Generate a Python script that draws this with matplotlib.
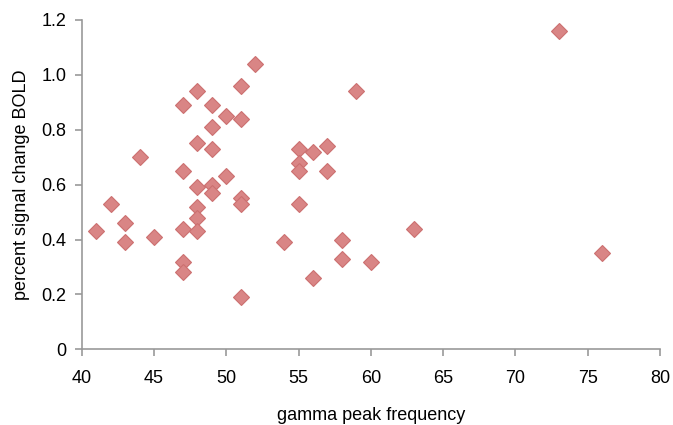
import matplotlib
matplotlib.use('Agg')
import matplotlib.pyplot as plt
from matplotlib.ticker import FuncFormatter

plt.rcParams['font.family'] = ['Liberation Sans', 'DejaVu Sans']

# gamma peak frequency vs percent signal change BOLD
gamma_freq = [41, 42, 43, 43, 44, 45,
              47, 47, 47, 47, 47,
              48, 48, 48, 48, 48, 48,
              49, 49, 49, 49, 49,
              50, 50,
              51, 51, 51, 51, 51,
              52, 54,
              55, 55, 55, 55,
              56, 56, 57, 57, 58, 58, 59, 60, 63, 73, 76]
bold_change = [0.43, 0.53, 0.46, 0.39, 0.70, 0.41,
               0.89, 0.65, 0.44, 0.32, 0.28,
               0.94, 0.75, 0.59, 0.52, 0.48, 0.43,
               0.89, 0.81, 0.73, 0.60, 0.57,
               0.85, 0.63,
               0.96, 0.84, 0.55, 0.53, 0.19,
               1.04, 0.39,
               0.73, 0.68, 0.65, 0.53,
               0.72, 0.26, 0.74, 0.65, 0.40, 0.33, 0.94, 0.32, 0.44, 1.16, 0.35]

fig = plt.figure(figsize=(6.73, 4.25), dpi=100)
ax = fig.add_axes([0.1214, 0.178, 0.8593, 0.775])

ax.plot(gamma_freq, bold_change, linestyle='none', marker='D', markersize=8,
        markerfacecolor='#d98585', markeredgecolor='#cc7070', markeredgewidth=0.8)

ax.set_xlim(40, 80)
ax.set_ylim(0, 1.2)
ax.set_xticks(range(40, 81, 5))
ax.set_yticks([0, 0.2, 0.4, 0.6, 0.8, 1.0, 1.2])
ax.yaxis.set_major_formatter(FuncFormatter(lambda v, p: '0' if v == 0 else '%.1f' % v))

for side in ['top', 'right']:
    ax.spines[side].set_visible(False)
for side in ['left', 'bottom']:
    ax.spines[side].set_color('#999999')
    ax.spines[side].set_linewidth(1.2)

ax.tick_params(axis='both', colors='#999999', labelcolor='black', labelsize=13, length=5, width=1.2)
ax.tick_params(axis='x', pad=10)
ax.tick_params(axis='y', pad=6)

ax.set_xlabel('gamma peak frequency', fontsize=13, labelpad=14)
ax.set_ylabel('percent signal change BOLD', fontsize=13, labelpad=8)

fig.savefig('out.png', dpi=100)
